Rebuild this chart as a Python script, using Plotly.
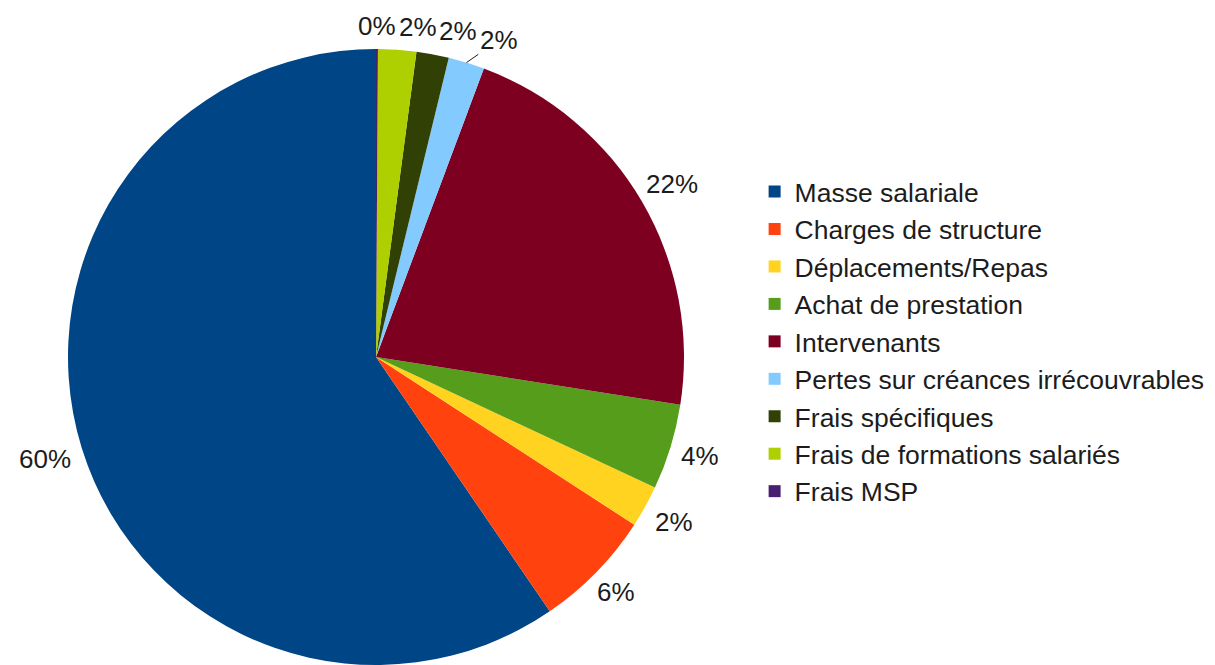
import math
import plotly.graph_objects as go

categories = ["Masse salariale", "Charges de structure", "Déplacements/Repas",
              "Achat de prestation", "Intervenants", "Pertes sur créances irrécouvrables",
              "Frais spécifiques", "Frais de formations salariés", "Frais MSP"]
values = [59.6, 6.3, 2.2, 4.5, 21.8, 1.9, 1.7, 2.0, 0.1]
colors = ["#004586", "#ff420e", "#ffd320", "#579d1c", "#7e0021",
          "#83caff", "#314004", "#aecf00", "#4b1f6f"]

W, H = 1215, 665
FS = 26
TXT = "#1c1c1c"
# the html page adds an 8px body margin, compensate for it
dom_x = [60 / W, 676 / W]
dom_y = [8 / H, 624 / H]

total = sum(values)
# plotly's counterclockwise puts the first slice ending at `rotation`,
# so shift it to start the first slice at 12 o'clock like the original
start = -360 * values[0] / total

fig = go.Figure(go.Pie(
    labels=categories, values=values, sort=False, direction="counterclockwise",
    rotation=start, textinfo="none",
    marker=dict(colors=colors, line=dict(width=0)),
    domain=dict(x=dom_x, y=dom_y),
))

# percentage labels outside the rim, LibreOffice style
cx = W * (dom_x[0] + dom_x[1]) / 2
cy = H * (1 - (dom_y[0] + dom_y[1]) / 2)
r = min(W * (dom_x[1] - dom_x[0]), H * (dom_y[1] - dom_y[0])) / 2

labels = []
acc = 0
for v in values:
    mid = acc + v / 2
    acc += v
    ang = -2 * math.pi * mid / total  # ccw from 12 o'clock
    ux, uy = math.sin(ang), -math.cos(ang)
    txt = "%d%%" % round(100 * v / total)
    w = FS * (0.556 * (len(txt) - 1) + 0.889)
    ext = min(w / 2 / max(abs(ux), 1e-6), 12 / max(abs(uy), 1e-6))
    d = r + 11 + ext
    labels.append(dict(txt=txt, w=w, x=cx + d * ux, y=cy + d * uy, x0=cx + d * ux,
                       rim=(cx + r * ux, cy + r * uy)))

# push overlapping labels near the top to the right
top = sorted([lb for lb in labels if lb["y"] < cy - 0.8 * r], key=lambda lb: lb["x"])
for a, b in zip(top, top[1:]):
    lim = a["x"] + a["w"] / 2 + 3 + b["w"] / 2
    if b["x"] < lim:
        b["x"] = lim

for lb in labels:
    if lb["x"] - lb["x0"] > 22:
        fig.add_annotation(
            x=lb["rim"][0] / W, y=1 - lb["rim"][1] / H, xref="paper", yref="paper",
            text=lb["txt"], showarrow=True, arrowhead=0, arrowwidth=1, arrowcolor=TXT,
            standoff=0, ax=lb["x"] - lb["rim"][0], ay=lb["y"] - lb["rim"][1],
            font=dict(size=FS, color=TXT),
        )
    else:
        fig.add_annotation(
            x=lb["x"] / W, y=1 - lb["y"] / H, xref="paper", yref="paper",
            text=lb["txt"], showarrow=False, xanchor="center", yanchor="middle",
            font=dict(size=FS, color=TXT),
        )

fig.update_layout(
    width=W, height=H, margin=dict(l=0, r=0, t=0, b=0),
    font=dict(family="Liberation Sans", color=TXT),
    paper_bgcolor="white",
    legend=dict(x=0.6145, y=0.498, yanchor="middle", font=dict(size=26.5)),
)
fig.write_html("out.html")
